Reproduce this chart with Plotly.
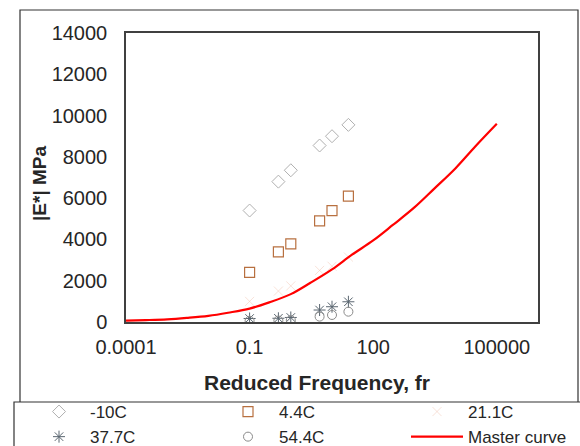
import plotly.graph_objects as go

# Test frequencies (Hz)
freq = [0.1, 0.5, 1, 5, 10, 25]

# Dynamic modulus |E*| (MPa) at each temperature
e_m10 = [5400, 6800, 7350, 8550, 9000, 9550]
e_4_4 = [2400, 3400, 3780, 4900, 5400, 6100]
e_21_1 = [1000, 1500, 1750, 2500, 2700, 3150]
e_37_7 = [170, 180, 220, 580, 740, 980]
e_54_4 = [60, 70, 90, 260, 340, 500]

# Fitted master curve
mc_freq = [1e-4, 3e-4, 1e-3, 3e-3, 1e-2, 3e-2, 1e-1, 3e-1, 1, 3, 10, 30,
           100, 300, 1e3, 3e3, 1e4, 3e4, 1e5]
mc_mod = [65, 90, 130, 200, 300, 450, 650, 950, 1350, 1900, 2550, 3250,
          3950, 4700, 5550, 6450, 7450, 8500, 9600]

# Axis ticks
x_ticks = [1e-4, 0.1, 100, 1e5]
x_tick_text = ["0.0001", "0.1", "100", "100000"]
y_ticks = [0, 2000, 4000, 6000, 8000, 10000, 12000, 14000]
y_tick_text = [str(v) for v in y_ticks]

# Plot-area geometry in pixels
W, H = 580, 446
L, R, T, B = 126, 42, 33, 124
PW, PH = W - L - R, H - T - B


def px(x):
    return (x - L) / PW


def py(y):
    return (H - B - y) / PH


font_main = "Liberation Sans, Arial, sans-serif"
txt = "#262626"

fig = go.Figure()

fig.add_trace(go.Scatter(
    x=freq, y=e_m10, mode="markers", name="-10C", legend="legend",
    marker=dict(symbol="diamond-open", size=10, color="#b0b0b0",
                line=dict(width=1, color="#b0b0b0"))))
fig.add_trace(go.Scatter(
    x=freq, y=e_37_7, mode="markers", name="37.7C", legend="legend",
    marker=dict(symbol="asterisk-open", size=10, color="#5a6670",
                line=dict(width=1, color="#5a6670"))))
fig.add_trace(go.Scatter(
    x=freq, y=e_4_4, mode="markers", name="4.4C", legend="legend2",
    marker=dict(symbol="square-open", size=10, color="#b87040",
                line=dict(width=1.2, color="#b87040"))))
fig.add_trace(go.Scatter(
    x=freq, y=e_54_4, mode="markers", name="54.4C", legend="legend2",
    marker=dict(symbol="circle-open", size=9, color="#8a8a8a",
                line=dict(width=1, color="#8a8a8a"))))
fig.add_trace(go.Scatter(
    x=freq, y=e_21_1, mode="markers", name="21.1C", legend="legend3",
    marker=dict(symbol="x-thin-open", size=9, color="rgba(240,190,170,0.45)",
                line=dict(width=1, color="rgba(240,190,170,0.45)"))))
fig.add_trace(go.Scatter(
    x=mc_freq, y=mc_mod, mode="lines", name="Master curve", legend="legend3",
    line=dict(color="#ff0000", width=2.2, shape="spline")))


def legend_col(text_left):
    item_w = 52
    return dict(
        orientation="v", x=px(text_left - item_w - 10), y=py(394),
        xanchor="left", yanchor="top", borderwidth=0,
        bgcolor="rgba(0,0,0,0)", itemwidth=item_w, tracegroupgap=0,
        font=dict(family=font_main, size=17, color=txt))


fig.update_layout(
    width=W, height=H,
    margin=dict(l=L, r=R, t=T, b=B, autoexpand=False),
    paper_bgcolor="white", plot_bgcolor="white",
    font=dict(family=font_main, size=20, color=txt),
    showlegend=True,
    legend=legend_col(90),
    legend2=legend_col(279),
    legend3=legend_col(468),
    xaxis=dict(
        type="log", range=[-4, 6], tickvals=x_ticks, ticktext=x_tick_text,
        showgrid=False, zeroline=False, showline=True, mirror=True,
        linecolor="#404040", linewidth=1.5, ticks="", ticklabelstandoff=6,
        tickfont=dict(size=20, color=txt),
    ),
    yaxis=dict(
        range=[0, 14000], tickvals=y_ticks, ticktext=y_tick_text,
        showgrid=False, zeroline=False, showline=True, mirror=True,
        linecolor="#404040", linewidth=1.5, ticks="", ticklabelstandoff=13,
        tickfont=dict(size=20, color=txt),
    ),
    annotations=[
        dict(text="<b>Reduced Frequency, fr</b>", xref="paper", yref="paper",
             x=px(317), y=py(382), xanchor="center", yanchor="middle",
             showarrow=False, font=dict(size=21, color=txt, family=font_main)),
        dict(text="<b>|E*| MPa</b>", xref="paper", yref="paper",
             x=px(39), y=py(184), xanchor="center", yanchor="middle",
             textangle=-90, showarrow=False,
             font=dict(size=19, color=txt, family=font_main)),
    ],
    shapes=[
        # outer chart frame
        dict(type="rect", xref="paper", yref="paper",
             x0=px(20), x1=px(578), y0=py(470), y1=py(10),
             line=dict(color="#333333", width=1.2), layer="below"),
        # legend box
        dict(type="rect", xref="paper", yref="paper",
             x0=px(14), x1=px(600), y0=py(470), y1=py(402),
             line=dict(color="#333333", width=1.2),
             fillcolor="white", layer="below"),
    ],
)

fig.write_html("out.html")
